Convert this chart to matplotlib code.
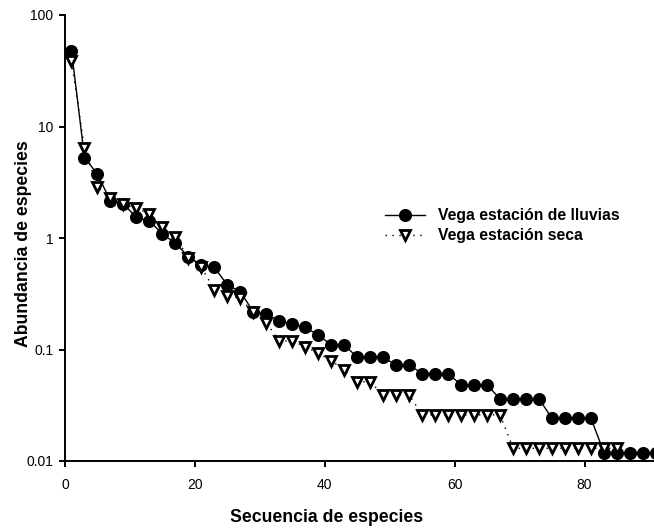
import matplotlib
matplotlib.use("Agg")
import matplotlib.pyplot as plt
from matplotlib.ticker import FixedLocator, NullLocator, FixedFormatter

plt.rcParams['font.family'] = ['Liberation Sans', 'DejaVu Sans']

# ---- data ----
x_lluvias = [1, 3, 5, 7, 9, 11, 13, 15, 17, 19, 21, 23, 25, 27, 29, 31, 33, 35, 37, 39,
             41, 43, 45, 47, 49, 51, 53, 55, 57, 59, 61, 63, 65, 67, 69, 71, 73, 75, 77, 79,
             81, 83, 85, 87, 89, 91]
y_lluvias = [47.9, 5.27, 3.73, 2.15, 2.02, 1.53, 1.42, 1.09, 0.896, 0.68, 0.573, 0.546,
             0.379, 0.330, 0.218, 0.208, 0.181, 0.169, 0.158, 0.135, 0.110, 0.110,
             0.0851, 0.0851, 0.0851, 0.0726, 0.0726, 0.0609, 0.0609, 0.0609,
             0.0481, 0.0481, 0.0481, 0.0360, 0.0360, 0.0360, 0.0360,
             0.0241, 0.0241, 0.0241, 0.0241, 0.0119, 0.0119, 0.0119, 0.0119, 0.0119]

x_seca = [1, 3, 5, 7, 9, 11, 13, 15, 17, 19, 21, 23, 25, 27, 29, 31, 33, 35, 37, 39,
          41, 43, 45, 47, 49, 51, 53, 55, 57, 59, 61, 63, 65, 67, 69, 71, 73, 75, 77, 79,
          81, 83, 85]
y_seca = [38.7, 6.37, 2.88, 2.27, 2.0, 1.85, 1.64, 1.25, 1.03, 0.66, 0.55, 0.342,
          0.303, 0.288, 0.216, 0.174, 0.119, 0.119, 0.106, 0.0925, 0.0794, 0.0655,
          0.0514, 0.0514, 0.0391, 0.0391, 0.0391,
          0.0259, 0.0259, 0.0259, 0.0259, 0.0259, 0.0259, 0.0259,
          0.0130, 0.0130, 0.0130, 0.0130, 0.0130, 0.0130, 0.0130, 0.0130, 0.0130]

label_lluvias = "Vega estación de lluvias"
label_seca = "Vega estación seca"
x_title = "Secuencia de especies"
y_title = "Abundancia de especies"
x_ticks = [0, 20, 40, 60, 80]
y_ticks = [0.01, 0.1, 1, 10, 100]
y_ticklabels = ["0.01", "0.1", "1", "10", "100"]

# ---- figure ----
W, H = 654, 529
fig = plt.figure(figsize=(W / 100, H / 100), dpi=100)
left, right, top, bottom = 65, 654, 15, 461
ax = fig.add_axes([left / W, 1 - bottom / H, (right - left) / W, (bottom - top) / H])

ax.plot(x_lluvias, y_lluvias, color='black', lw=1.0, marker='o', ms=8.4,
        mfc='black', mec='black', label=label_lluvias, zorder=3)
ax.plot(x_seca, y_seca, color='black', lw=1.0, ls=(0, (1, 4)), marker='v', ms=7.0,
        mfc='white', mec='black', mew=2.0, label=label_seca, zorder=4)

ax.set_yscale('log')
ax.set_ylim(0.01, 100)
ax.set_xlim(0, 90.7)
ax.yaxis.set_major_locator(FixedLocator(y_ticks))
ax.yaxis.set_major_formatter(FixedFormatter(y_ticklabels))
ax.yaxis.set_minor_locator(NullLocator())
ax.xaxis.set_major_locator(FixedLocator(x_ticks))
ax.xaxis.set_minor_locator(NullLocator())

for s in ['top', 'right']:
    ax.spines[s].set_visible(False)
for s in ['left', 'bottom']:
    ax.spines[s].set_linewidth(1.4)
ax.tick_params(axis='both', which='major', direction='out', length=4.5, width=1.4,
               labelsize=10, colors='black')
ax.tick_params(axis='x', pad=8)
ax.tick_params(axis='y', pad=4)

fig.text(327 / W, 1 - 518 / H, x_title, ha='center', va='center',
         fontsize=12.7, fontweight='bold')
fig.text(24 / W, 1 - 244 / H, y_title, ha='center', va='center', rotation=90,
         fontsize=12.7, fontweight='bold')

leg = ax.legend(loc='upper left', bbox_to_anchor=(385 / W, 1 - 208 / H),
                bbox_transform=fig.transFigure, frameon=False, borderpad=0,
                borderaxespad=0, handlelength=2.55, handletextpad=0.8,
                labelspacing=0.35, prop={'size': 11.3, 'weight': 'bold'})

fig.savefig('out.png', dpi=100)
